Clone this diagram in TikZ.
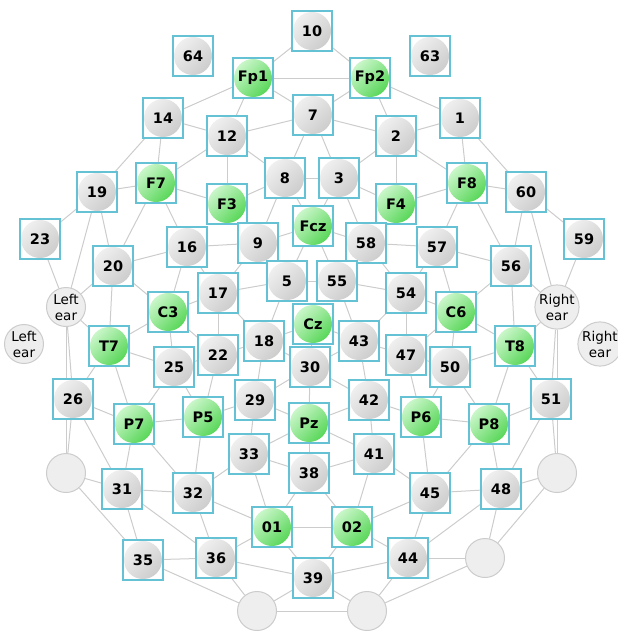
\documentclass[tikz,border=0pt]{standalone}
\usepackage{fontspec}
\usetikzlibrary{backgrounds}
\newfontfamily\dvsans{DejaVu Sans}
\definecolor{boxcyan}{RGB}{100,194,212}
\definecolor{edgegray}{RGB}{204,204,204}
\definecolor{balltop}{RGB}{240,240,240}
\definecolor{ballbot}{RGB}{204,204,204}
\definecolor{greentop}{RGB}{205,247,205}
\definecolor{greenbot}{RGB}{86,214,86}
\definecolor{circfill}{RGB}{238,238,238}
\definecolor{circedge}{RGB}{204,204,204}
\tikzset{
  edgeline/.style={draw=edgegray, line width=1pt},
  elecbase/.style={rectangle, minimum width=40pt, minimum height=40pt, inner sep=0pt,
    draw=boxcyan, line width=1.3pt, fill=white, text=black,
    font=\dvsans\bfseries\fontsize{14.5}{16}\selectfont},
  grayel/.style={elecbase, path picture={\shade[top color=balltop, bottom color=ballbot, shading angle=45]
    (path picture bounding box.center) circle (19pt);}},
  greenel/.style={elecbase, path picture={\shade[top color=greentop, bottom color=greenbot, shading angle=45]
    (path picture bounding box.center) circle (19pt);}},
  plainc/.style={circle, minimum size=39pt, inner sep=0pt, draw=circedge, line width=1pt,
    fill=circfill, text=black, align=center,
    font=\dvsans\fontsize{13.5}{16}\selectfont},
}
\begin{document}
\begin{tikzpicture}[x=1pt, y=-1pt]
\useasboundingbox (0,0) rectangle (618,632);
% electrodes
\node[grayel] (n10) at (312,31) {10};
\node[grayel] (n64) at (193,56) {64};
\node[grayel] (n63) at (430,56) {63};
\node[greenel] (Fp1) at (253,78) {Fp1};
\node[greenel] (Fp2) at (370,78) {Fp2};
\node[grayel] (n14) at (163,118) {14};
\node[grayel] (n7) at (313,115) {7};
\node[grayel] (n1) at (460,118) {1};
\node[grayel] (n12) at (227,136) {12};
\node[grayel] (n2) at (396,136) {2};
\node[grayel] (n19) at (97,192) {19};
\node[greenel] (F7) at (156,183) {F7};
\node[grayel] (n8) at (285,178) {8};
\node[grayel] (n3) at (339,178) {3};
\node[greenel] (F8) at (467,183) {F8};
\node[grayel] (n60) at (526,192) {60};
\node[greenel] (F3) at (227,204) {F3};
\node[greenel] (F4) at (396,204) {F4};
\node[greenel] (Fcz) at (313,226) {Fcz};
\node[grayel] (n23) at (40,239) {23};
\node[grayel] (n16) at (187,247) {16};
\node[grayel] (n9) at (258,243) {9};
\node[grayel] (n58) at (366,243) {58};
\node[grayel] (n57) at (437,247) {57};
\node[grayel] (n59) at (584,239) {59};
\node[grayel] (n20) at (113,266) {20};
\node[grayel] (n56) at (511,266) {56};
\node[plainc] (LE) at (66,307) {Left\\ear};
\node[plainc] (RE) at (557,307) {Right\\ear};
\node[grayel] (n17) at (218,293) {17};
\node[grayel] (n5) at (287,281) {5};
\node[grayel] (n55) at (337,281) {55};
\node[grayel] (n54) at (406,293) {54};
\node[greenel] (C3) at (168,312) {C3};
\node[greenel] (C6) at (456,312) {C6};
\node[greenel] (Cz) at (313,324) {Cz};
\node[plainc] (LEo) at (24,344) {Left\\ear};
\node[plainc] (REo) at (600,344) {Right\\ear};
\node[greenel] (T7) at (109,346) {T7};
\node[grayel] (n18) at (264,341) {18};
\node[grayel] (n43) at (359,341) {43};
\node[greenel] (T8) at (515,346) {T8};
\node[grayel] (n22) at (218,355) {22};
\node[grayel] (n47) at (406,355) {47};
\node[grayel] (n25) at (174,367) {25};
\node[grayel] (n30) at (310,367) {30};
\node[grayel] (n50) at (450,367) {50};
\node[grayel] (n26) at (73,399) {26};
\node[grayel] (n29) at (255,400) {29};
\node[grayel] (n42) at (369,400) {42};
\node[grayel] (n51) at (551,399) {51};
\node[greenel] (P7) at (134,424) {P7};
\node[greenel] (P5) at (203,417) {P5};
\node[greenel] (Pz) at (309,423) {Pz};
\node[greenel] (P6) at (421,417) {P6};
\node[greenel] (P8) at (489,424) {P8};
\node[grayel] (n33) at (249,454) {33};
\node[grayel] (n38) at (309,473) {38};
\node[grayel] (n41) at (374,454) {41};
\node[plainc] (cL) at (66,473) {};
\node[plainc] (cR) at (557,473) {};
\node[grayel] (n31) at (122,489) {31};
\node[grayel] (n32) at (193,493) {32};
\node[grayel] (n45) at (430,493) {45};
\node[grayel] (n48) at (501,489) {48};
\node[greenel] (O1) at (272,527) {01};
\node[greenel] (O2) at (352,527) {02};
\node[grayel] (n35) at (143,560) {35};
\node[grayel] (n36) at (216,558) {36};
\node[grayel] (n44) at (408,558) {44};
\node[plainc] (c44) at (485,558) {};
\node[grayel] (n39) at (313,578) {39};
\node[plainc] (bL) at (257,611) {};
\node[plainc] (bR) at (367,611) {};
% connectors
\begin{scope}[on background layer]
\foreach \a/\b in {n10/Fp1, n10/Fp2, Fp1/Fp2, Fp1/n7, Fp2/n7, Fp1/n14, Fp2/n1, Fp1/n12, Fp2/n2,
  n14/n12, n1/n2, n14/F7, n1/F8, n14/n19, n1/n60,
  n12/n7, n2/n7, n12/F7, n2/F8, n12/n8, n2/n3, n12/F3, n2/F4,
  n7/n8, n7/n3, n8/n3,
  F7/n19, F8/n60, F7/F3, F8/F4, F3/n8, F4/n3,
  n8/n9, n3/n58, n8/Fcz, n3/Fcz,
  F7/n20, F8/n56, F7/n16, F8/n57,
  n19/n23, n60/n59, n19/LE, n60/RE, n19/n20, n60/n56,
  n23/LE, n59/RE, n20/LE, n56/RE,
  n20/n16, n56/n57, n20/T7, n56/T8, n20/C3, n56/C6,
  n16/n9, n57/n58, n16/C3, n57/C6, n16/n17, n57/n54,
  n9/n17, n58/n54, n9/Fcz, n58/Fcz, Fcz/n5, Fcz/n55, n5/n55,
  n17/n5, n54/n55, n17/C3, n54/C6, n17/n22, n54/n47, n17/n18, n54/n43,
  n5/n18, n55/n43,
  LE/T7, RE/T8, LE/n26, RE/n51, LE/cL, RE/cR, n26/cL, n51/cR,
  C3/T7, C6/T8, C3/n25, C6/n50, C3/n22, C6/n47,
  T7/n25, T8/n50, T7/n26, T8/n51, T7/P7, T8/P8,
  n25/n22, n50/n47, n25/P7, n50/P8, n25/P5, n50/P6,
  n22/n18, n47/n43, n22/P5, n47/P6,
  n18/n29, n43/n42, n18/Cz, n43/Cz, n18/n30, n43/n30, Cz/n30,
  n29/P5, n42/P6, n29/n30, n42/n30, n29/Pz, n42/Pz, n29/n33, n42/n41, n30/Pz,
  n26/P7, n51/P8, n26/n31, n51/n48,
  P7/P5, P8/P6, P7/n31, P8/n48, P7/n32, P8/n45,
  cL/n31, cR/n48, cL/n35, cR/c44,
  n31/n32, n48/n45, n31/n35, n48/c44, n31/n36, n48/n44,
  n32/P5, n45/P6, n32/n33, n45/n41, n32/O1, n45/O2, n32/n36, n45/n44,
  n33/O1, n41/O2, n33/Pz, n41/Pz, n33/n38, n41/n38, Pz/n38,
  n35/n36, c44/n44, n35/bL, c44/bR,
  n36/O1, n44/O2, n36/n39, n44/n39, n36/bL, n44/bR,
  O1/O2, O1/n39, O2/n39, n38/O1, n38/O2,
  bL/bR, bL/n39, bR/n39}
  \draw[edgeline] (\a) -- (\b);
\end{scope}
\end{tikzpicture}
\end{document}
